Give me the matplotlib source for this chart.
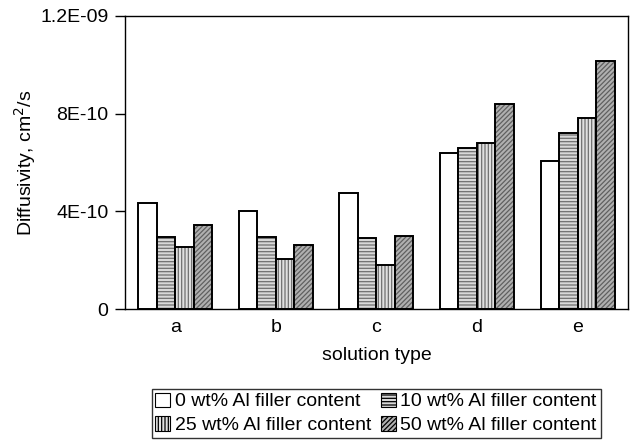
import matplotlib
matplotlib.use("Agg")
import matplotlib.pyplot as plt
from matplotlib.patches import Patch
import numpy as np

plt.rcParams['font.family'] = ['Liberation Sans', 'DejaVu Sans']
plt.rcParams['hatch.linewidth'] = 0.9

categories = ['a', 'b', 'c', 'd', 'e']
series_names = ['0 wt% Al filler content', '10 wt% Al filler content',
                '25 wt% Al filler content', '50 wt% Al filler content']
s0 = [4.34e-10, 4.01e-10, 4.76e-10, 6.39e-10, 6.06e-10]
s10 = [2.95e-10, 2.96e-10, 2.91e-10, 6.59e-10, 7.21e-10]
s25 = [2.54e-10, 2.05e-10, 1.79e-10, 6.80e-10, 7.82e-10]
s50 = [3.44e-10, 2.63e-10, 2.99e-10, 8.39e-10, 10.15e-10]
yticks = [0, 4e-10, 8e-10, 1.2e-9]
ytick_labels = ['0', '4E-10', '8E-10', '1.2E-09']

FS = 14

fig = plt.figure(figsize=(6.31, 4.41), dpi=100)
ax = fig.add_axes([0.198, 0.299, 0.797, 0.665])

x = np.arange(len(categories))
w = 0.184
styles = [
    dict(facecolor='white', hatch=None, hcolor='white'),
    dict(facecolor='#d8d8d8', hatch='-----', hcolor='#707070'),
    dict(facecolor='#e0e0e0', hatch='|||||', hcolor='#707070'),
    dict(facecolor='#b0b0b0', hatch='///////', hcolor='#606060'),
]
data = [s0, s10, s25, s50]
handles = []
for i, (vals, st, name) in enumerate(zip(data, styles, series_names)):
    pos = x + (i - 1.5) * w
    ax.bar(pos, vals, width=w, facecolor=st['facecolor'], hatch=st['hatch'],
           edgecolor=st['hcolor'], linewidth=0)
    ax.bar(pos, vals, width=w, facecolor='none', edgecolor='black',
           linewidth=1.4)
    handles.append(Patch(facecolor=st['facecolor'], hatch=st['hatch'],
                         edgecolor='black', linewidth=0.8, label=name))

ax.set_xlim(-0.5, len(categories) - 0.5)
ax.set_ylim(0, 1.2e-9)
ax.set_yticks(yticks)
ax.set_yticklabels(ytick_labels)
ax.set_xticks(x)
ax.set_xticklabels(categories)
ax.tick_params(axis='x', length=0, labelsize=FS, pad=7)
ax.tick_params(axis='y', direction='out', length=7, width=1, labelsize=FS, pad=5)
for sp in ax.spines.values():
    sp.set_linewidth(1.0)
    sp.set_color('black')

ax.set_ylabel('Diffusivity, cm$^2$/s', fontsize=FS, labelpad=1.5)
ax.set_xlabel('solution type', fontsize=FS, labelpad=8)

order = [0, 2, 1, 3]
leg = fig.legend([handles[k] for k in order], [series_names[k] for k in order],
                 loc='lower center', bbox_to_anchor=(0.596, 0.0), ncol=2,
                 fontsize=FS, frameon=True, fancybox=False, edgecolor='black',
                 handlelength=0.75, handleheight=0.75, handletextpad=0.25,
                 columnspacing=0.5, borderpad=0.2, labelspacing=0.3,
                 borderaxespad=0.15)
leg.get_frame().set_linewidth(1.0)

fig.savefig('out.png', dpi=100)
